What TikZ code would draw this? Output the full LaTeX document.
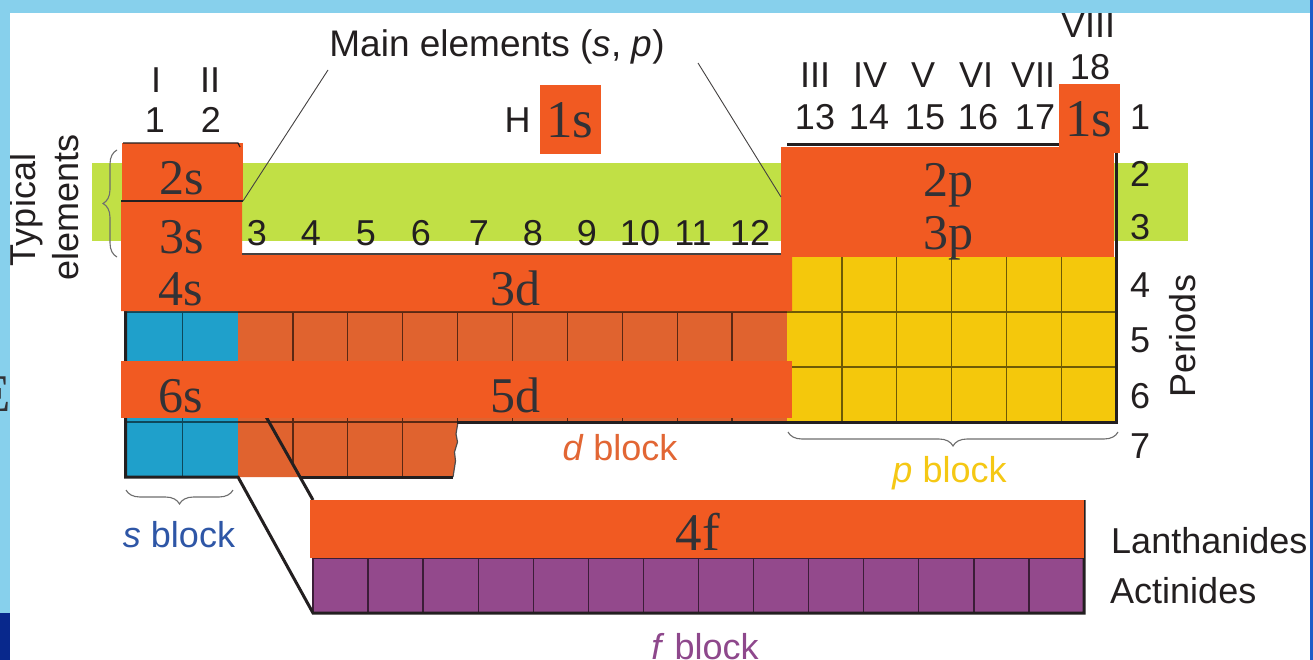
\documentclass[tikz,border=0pt]{standalone}
\usepackage{fontspec}
\setmainfont{Liberation Sans}
\newfontfamily\orbfont{Liberation Serif}
\usetikzlibrary{decorations.pathreplacing}

\definecolor{skyband}{RGB}{135,208,236}
\definecolor{navyband}{RGB}{8,40,140}
\definecolor{edgeblue}{RGB}{30,90,200}
\definecolor{typgreen}{RGB}{193,224,69}
\definecolor{ovl}{RGB}{241,90,34}
\definecolor{dcell}{RGB}{224,99,47}
\definecolor{scell}{RGB}{31,160,203}
\definecolor{pcell}{RGB}{244,200,12}
\definecolor{fcell}{RGB}{147,73,140}
\definecolor{ink}{RGB}{35,31,32}
\definecolor{orbtext}{RGB}{50,50,54}
\definecolor{stext}{RGB}{46,86,166}
\definecolor{dtext}{RGB}{226,102,52}
\definecolor{ptext}{RGB}{245,200,20}
\definecolor{ftext}{RGB}{142,72,140}
\definecolor{bracegray}{RGB}{110,110,110}

\begin{document}
\begin{tikzpicture}[x=1pt,y=-1pt,
  lbl/.style={font=\fontsize{36}{40}\selectfont, text=ink, inner sep=0pt, anchor=base},
  orb/.style={font=\orbfont\fontsize{50}{54}\selectfont, text=orbtext, inner sep=0pt, anchor=base},
  orbbig/.style={orb, font=\orbfont\fontsize{53}{56}\selectfont},
  cover/.style={fill=ovl},
  outl/.style={draw=ink, line width=3pt, line join=miter},
  grid/.style={line width=1.3pt},
  leader/.style={draw=ink!85, line width=0.9pt},
  bracket/.style={draw=bracegray, line width=1.1pt, decorate,
    decoration={brace, amplitude=#1}},
  blocklbl/.style={font=\fontsize{36}{40}\selectfont, inner sep=0pt, anchor=base},
]
\useasboundingbox (0,0) rectangle (1313,660);
\clip (0,0) rectangle (1313,660);
\fill[white] (0,0) rectangle (1313,660);

% band of the typical elements (periods 2 and 3)
\fill[typgreen] (92,163) rectangle (1188,241);

% s block
\fill[scell] (127,257) rectangle (238,477);
\draw[grid, draw=scell!45!black] (182.5,257) -- (182.5,477);
\foreach \y in {312,367,422}
  \draw[grid, draw=scell!45!black] (127,\y) -- (238,\y);

% d block, periods 4 to 6
\fill[dcell] (238,257) rectangle (787,422);
\foreach \c in {4,...,12}
  \draw[grid, draw=dcell!40!black] ({73.3+54.9*\c},257) -- ({73.3+54.9*\c},422);
\foreach \y in {312,367}
  \draw[grid, draw=dcell!40!black] (238,\y) -- (787,\y);
% d block, period 7 (torn right edge)
\fill[dcell] (238,422) -- (458,422) -- (456,434) -- (457.5,442) -- (454.5,452)
  -- (455.5,461) -- (453,477) -- (238,477) -- cycle;
\draw[grid, draw=dcell!40!black] (238,422) -- (458,422);
\draw[grid, draw=dcell!40!black] (292.9,422) -- (292.9,464.5);
\draw[grid, draw=dcell!40!black] (347.8,422) -- (347.8,477);
\draw[grid, draw=dcell!40!black] (402.7,422) -- (402.7,477);
\draw[draw=ink!80, line width=1.2pt] (458,422) -- (456,434) -- (457.5,442) -- (454.5,452)
  -- (455.5,461) -- (453,477);

% p block
\fill[pcell] (787,257) rectangle (1116,422);
\foreach \c in {14,...,18}
  \draw[grid, draw=pcell!45!black] ({73.3+54.9*\c},257) -- ({73.3+54.9*\c},422);
\foreach \y in {312,367}
  \draw[grid, draw=pcell!45!black] (787,\y) -- (1116,\y);

% f block
\fill[fcell] (313,500) rectangle (1084,613);
\foreach \k in {0,...,13}
  \draw[grid, draw=fcell!40!black] ({313+55.07*\k},500) -- ({313+55.07*\k},613);
\draw[grid, draw=fcell!40!black] (313,558) -- (1084,558);

% heavy outline of the table
\draw[outl] (125.5,290) -- (125.5,477) -- (238,477) -- (313,613) -- (1084,613) -- (1084,500);
\draw[outl] (238,367) -- (313,500);
\draw[outl] (300,477) -- (453,477);
\draw[outl] (457,422) -- (1116,422) -- (1116,153);
\draw[outl] (787,145) -- (1059,145);

% orbital boxes
\fill[cover] (540,85) rectangle (601,154);
\fill[cover] (1059,84) rectangle (1120,153);
\fill[cover] (781,147) rectangle (1114,257);
\fill[cover] (122,143) rectangle (243,201);
\fill[cover] (121,201) -- (242,201) -- (242,254) -- (792,254) -- (792,311) -- (121,311) -- cycle;
\fill[cover] (121,361) rectangle (792,418);
\fill[cover] (310,500) rectangle (1084,558);
\draw[draw=ink, line width=1.2pt] (123,143) -- (238,143) -- (240,147);
\draw[draw=ink, line width=1.5pt] (121,201) -- (243,201);
\draw[draw=ink!85, line width=1.5pt] (242,254) -- (781,254);

% orbital labels
\node[orbbig] (o1sH) at (570,138) {1s};
\node[orbbig] (o1sHe) at (1089,137) {1s};
\node[orb] (o2s) at (182,195) {2s};
\node[orb] (o3s) at (182,253) {3s};
\node[orb] (o4s) at (181,305) {4s};
\node[orb] (o3d) at (515,305) {3d};
\node[orb] (o2p) at (948,197) {2p};
\node[orb] (o3p) at (948,250) {3p};
\node[orb] (o6s) at (181,412) {6s};
\node[orb] (o5d) at (515,412) {5d};
\node[orbbig] (o4f) at (698,550) {4f};

% group headings
\node[lbl] (rI) at (156,93) {I};
\node[lbl] (rII) at (210,93) {II};
\node[lbl] (g1) at (155,133) {1};
\node[lbl] (g2) at (211,133) {2};
\foreach \n/\x in {3/257,4/311,5/366,6/421,7/479,8/533,9/587,10/640,11/693,12/750}
  \node[lbl] (g\n) at (\x,246) {\n};
\foreach \r/\x in {III/815,IV/870,V/923,VI/976,VII/1033}
  \node[lbl] (r\r) at (\x,88) {\r};
\foreach \n/\x in {13/815,14/869,15/925,16/978,17/1035}
  \node[lbl] (g\n) at (\x,130) {\n};
\node[lbl] (rVIII) at (1088,38) {VIII};
\node[lbl] (g18) at (1090,80) {18};
\node[lbl, anchor=base] (hyd) at (517.5,133) {H};

% periods
\foreach \n/\y in {1/130,2/187,3/240,4/297,5/352,6/408,7/458}
  \node[lbl] (p\n) at (1140,\y) {\n};
\node[lbl, rotate=90] (periods) at (1195,336) {Periods};

% typical elements
\node[lbl, rotate=90] (typA) at (35,210) {Typical};
\node[lbl, rotate=90] (typB) at (78,207.5) {elements};
\draw[bracket=14] (117,257) -- (117,150);

% main elements
\node[lbl, font=\fontsize{37}{40}\selectfont] (main) at (497,57) {Main elements (\textit{s}, \textit{p})};
\coordinate (mainL) at (328,70);
\coordinate (mainR) at (698,63);
\coordinate (tipS) at (243,201);
\coordinate (tipP) at (781,197);
\draw[leader] (mainL) -- (tipS);
\draw[leader] (mainR) -- (tipP);

% block names
\draw[bracket=14] (233,490) -- (126,490);
\node[blocklbl, text=stext] (sblk) at (179,547) {\textit{s} block};
\node[blocklbl, text=dtext] (dblk) at (620,460) {\textit{d} block};
\draw[bracket=14] (1118,432) -- (788,432);
\node[blocklbl, text=ptext] (pblk) at (949.5,482) {\textit{p} block};
\node[blocklbl, text=ftext] (fblk) at (705,659) {\textit{f} block};
\node[lbl, anchor=base west] (lan) at (1111,553) {Lanthanides};
\node[lbl, anchor=base west] (act) at (1110,603) {Actinides};

% slide frame
\fill[skyband] (0,0) rectangle (1313,13);
\fill[skyband] (0,0) rectangle (10,613);
\fill[navyband] (0,613) rectangle (10,660);
\fill[edgeblue] (1309.5,0) rectangle (1313,660);
\node[orb, font=\orbfont\fontsize{53}{56}\selectfont, anchor=base east] (edgeE) at (11.5,411) {E};
\end{tikzpicture}
\end{document}
